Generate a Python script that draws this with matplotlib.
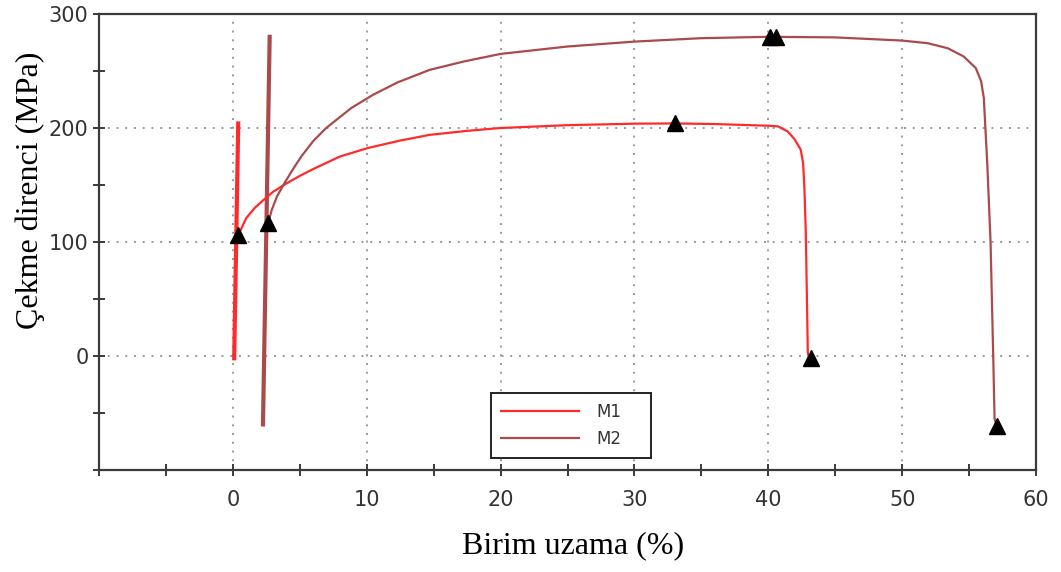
import numpy as np
import matplotlib.pyplot as plt

# M1: elastik kisim + egri
m1_el_x = [0.1, 0.4]
m1_el_y = [-2, 204]
m1_x = [0.4, 1.0, 1.64, 2.3, 3.0, 3.87, 5.0, 6.0, 8.0, 10.1, 12.5, 14.7, 17.5, 20, 25, 30, 33, 36, 40,
        40.7, 41.45, 41.97, 42.42, 42.6, 42.7, 42.8, 42.95, 43.05]
m1_y = [106, 121, 130, 137, 144, 150.5, 158, 164, 175, 182.5, 189, 194, 197.5, 200, 202.5, 203.8, 204, 203.5, 202,
        201.5, 197, 190, 181, 169, 146, 108, 3, -2]
m1_mx = [0.4, 33.0, 43.2]
m1_my = [106, 204, -2]

# M2
m2_el_x = [2.25, 2.75]
m2_el_y = [-60, 280]
m2_x = [2.65, 2.9, 3.3, 3.87, 4.5, 5.11, 6.0, 6.97, 8.84, 10.45, 12.3, 14.7, 17.3, 20, 25, 30, 35, 40, 45, 50,
        51.9, 53.4, 54.6, 55.5, 55.9, 56.1, 56.2, 56.35, 56.6, 56.8, 56.9, 57.05]
m2_y = [117, 128, 140, 152, 164, 175, 188.5, 200, 217.5, 229, 240, 251, 258.5, 265, 271.5, 275.8, 278.8, 280, 279.5, 276.7,
        274.4, 270, 262.7, 252.5, 240.8, 226, 203, 170, 100, 0, -55, -61]
m2_mx = [2.6, 40.1, 40.6, 57.1]
m2_my = [117, 280, 280, -61]

x_ticks = [-10, 0, 10, 20, 30, 40, 50, 60]
x_labels = ['', '0', '10', '20', '30', '40', '50', '60']
y_ticks = [-100, 0, 100, 200, 300]
y_labels = ['', '0', '100', '200', '300']

c1 = '#ff2b2b'
c2 = '#aa4a4a'

fig = plt.figure(figsize=(10.61, 5.72), dpi=100)
ax = fig.add_axes([0.0933, 0.1783, 0.8832, 0.7972])

ax.plot(m1_el_x, m1_el_y, color=c1, lw=3)
ax.plot(m2_el_x, m2_el_y, color=c2, lw=3)
ax.plot(m1_x, m1_y, color=c1, lw=1.6, label='M1')
ax.plot(m2_x, m2_y, color=c2, lw=1.6, label='M2')
ax.plot(m1_mx, m1_my, '^', color='black', ms=11, ls='none')
ax.plot(m2_mx, m2_my, '^', color='black', ms=11, ls='none')

ax.set_xlim(-10, 60)
ax.set_ylim(-100, 300)
ax.set_xticks(x_ticks)
ax.set_xticklabels(x_labels)
ax.set_yticks(y_ticks)
ax.set_yticklabels(y_labels)
ax.set_xticks(np.arange(-5, 60, 10), minor=True)
ax.set_yticks(np.arange(-50, 300, 100), minor=True)

for s in ax.spines.values():
    s.set_color('#3a3a3a')
    s.set_linewidth(1.6)

ax.tick_params(which='both', direction='inout', length=9, width=1.4, color='#3a3a3a',
               labelsize=15, labelcolor='#333333')
ax.tick_params(axis='x', which='major', pad=10)
ax.tick_params(axis='y', which='major', pad=3)

ax.grid(True, which='major', color='#9a9a9a', lw=1.4, ls=(0, (1, 3.5)))

ax.set_xlabel('Birim uzama (%)', fontfamily='Liberation Serif', fontsize=23)
ax.set_ylabel('Çekme direnci (MPa)', fontfamily='Liberation Serif', fontsize=23)
ax.xaxis.set_label_coords(0.506, -0.135)
ax.yaxis.set_label_coords(-0.058, 0.614)

leg = ax.legend(loc='lower left', bbox_to_anchor=(0.4183, 0.0258, 0.1708, 0.154), mode='expand',
                fontsize=12, handlelength=4.7, handletextpad=1.0, labelspacing=0.55,
                borderpad=0.6, fancybox=False, framealpha=1, borderaxespad=0)
leg.get_frame().set_edgecolor('#222222')
leg.get_frame().set_linewidth(1.4)
for t in leg.get_texts():
    t.set_color('#333333')

fig.savefig('out.png', dpi=100)
